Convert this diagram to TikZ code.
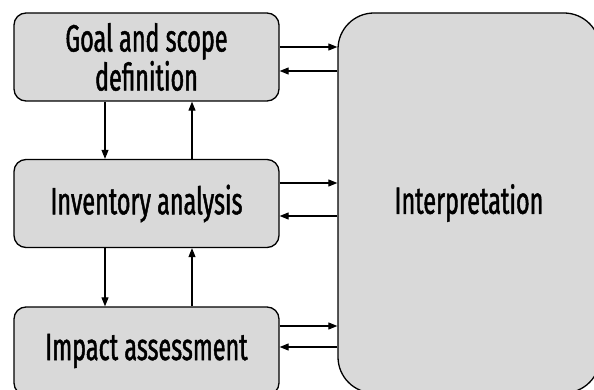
\documentclass[tikz,border=0pt]{standalone}
\usepackage{fontspec}
\setmainfont[FakeStretch=0.615, FakeBold=1.2]{Fira Sans}
\usetikzlibrary{arrows.meta}
\definecolor{boxgray}{HTML}{D9D9D9}
\tikzset{
  stage/.style={draw=black, line width=1.3pt, fill=boxgray, rounded corners=12pt,
    minimum width=265pt, minimum height=88pt, inner sep=0pt, align=center,
    font=\fontsize{38}{39}\selectfont},
  bigstage/.style={draw=black, line width=1.3pt, fill=boxgray, rounded corners=36pt,
    minimum width=262pt, minimum height=380pt, inner sep=0pt,
    font=\fontsize{38}{39}\selectfont},
  link/.style={line width=1.1pt, -{Triangle[length=9pt,width=7pt]}}
}
\begin{document}
\begin{tikzpicture}[x=1pt, y=-1pt]
  \useasboundingbox (0,0) rectangle (594,390);
  \clip (0,0) rectangle (594,390);
  % phase boxes
  \node[stage] (goal) at (146.5,57) {Goal and scope\\definition};
  \node[stage] (inv)  at (146.5,203.5) {Inventory analysis};
  \node[stage] (imp)  at (146.5,351) {Impact assessment};
  \node[bigstage] (interp) at (469,203) {Interpretation};
  % vertical links between phases
  \draw[link] (goal.south -| 105,0) -- (inv.north -| 105,0);
  \draw[link] (inv.north -| 192,0) -- (goal.south -| 192,0);
  \draw[link] (inv.south -| 105,0) -- (imp.north -| 105,0);
  \draw[link] (imp.north -| 192,0) -- (inv.south -| 192,0);
  % links to and from interpretation
  \draw[link] (goal.east |- 0,47)  -- (interp.west |- 0,47);
  \draw[link] (interp.west |- 0,71) -- (goal.east |- 0,71);
  \draw[link] (inv.east |- 0,183)  -- (interp.west |- 0,183);
  \draw[link] (interp.west |- 0,216) -- (inv.east |- 0,216);
  \draw[link] (imp.east |- 0,326)  -- (interp.west |- 0,326);
  \draw[link] (interp.west |- 0,347) -- (imp.east |- 0,347);
\end{tikzpicture}
\end{document}
